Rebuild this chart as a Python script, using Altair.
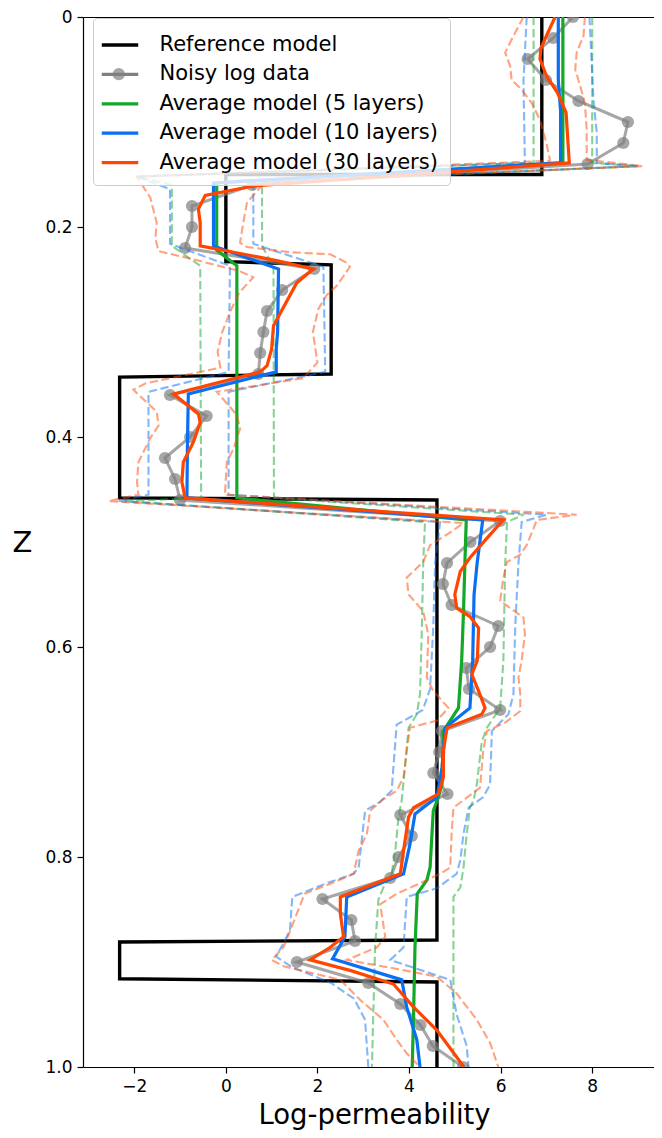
import altair as alt
import pandas as pd

# ---------------- data ----------------
# Reference (true) model: piecewise constant log-permeability
ref_z = [0.0, 0.150, 0.150, 0.233, 0.236, 0.340, 0.343, 0.458, 0.460, 0.879, 0.881, 0.916, 0.919, 1.0]
ref_x = [6.9, 6.9, 0.0, 0.0, 2.3, 2.3, -2.32, -2.32, 4.61, 4.61, -2.32, -2.32, 4.61, 4.61]

# Noisy log data
data_z = [0.00, 0.02, 0.04, 0.06, 0.08, 0.10, 0.12, 0.14, 0.16, 0.18, 0.20, 0.22, 0.24, 0.26, 0.28,
          0.30, 0.32, 0.34, 0.36, 0.38, 0.40, 0.42, 0.44, 0.46, 0.48, 0.50, 0.52, 0.54, 0.56, 0.58,
          0.60, 0.62, 0.64, 0.66, 0.68, 0.70, 0.72, 0.74, 0.76, 0.78, 0.80, 0.82, 0.84, 0.86, 0.88,
          0.90, 0.92, 0.94, 0.96, 0.98, 1.00]
data_x = [7.58, 7.15, 6.59, 6.99, 7.70, 8.78, 8.68, 7.90, 0.57, -0.74, -0.74, -0.89, 1.93, 1.23, 0.90,
          0.82, 0.75, 0.71, -1.22, -0.42, -0.78, -1.33, -1.11, -1.00, 5.99, 5.34, 4.83, 4.74, 4.93, 5.95,
          5.77, 5.25, 5.31, 5.99, 4.72, 4.66, 4.53, 4.84, 3.81, 4.06, 3.77, 3.59, 2.11, 2.74, 2.82,
          1.55, 3.11, 3.81, 4.25, 4.52, 5.18]

# Average model, 5 layers (mean, lower and upper bounds)
g5_z = [0.0, 0.139, 0.158, 0.222, 0.237, 0.458, 0.479, 0.52, 0.566, 0.613, 0.658, 0.68, 0.731,
        0.743, 0.756, 0.81, 0.822, 0.835, 0.886, 0.949, 1.0]
g5_x = [7.36, 7.36, -0.2, -0.2, 0.24, 0.24, 5.25, 5.22, 5.19, 5.15, 5.08, 4.75, 4.72,
        4.64, 4.53, 4.46, 4.39, 4.18, 4.13, 4.10, 4.07]
g5lo_z = [0.0, 0.139, 0.152, 0.16, 0.218, 0.237, 0.458, 0.461, 0.481, 0.519, 0.582, 0.645, 0.664,
          0.677, 0.715, 0.746, 0.762, 0.794, 0.816, 0.829, 0.841, 0.886, 0.949, 1.0]
g5lo_x = [6.72, 6.72, -1.95, -1.18, -1.18, -0.56, -0.54, -2.2, 4.35, 4.31, 4.28, 4.24, 4.17,
          3.99, 3.91, 3.84, 3.77, 3.70, 3.62, 3.44, 3.33, 3.26, 3.22, 3.19]
g5hi_z = [0.0, 0.139, 0.142, 0.158, 0.218, 0.238, 0.458, 0.474, 0.481, 0.52, 0.613, 0.658, 0.677,
          0.69, 0.731, 0.746, 0.753, 0.778, 0.81, 0.829, 0.838, 1.0]
g5hi_x = [8.0, 8.0, 9.0, 0.79, 0.79, 1.04, 1.05, 6.5, 6.14, 6.1, 6.06, 5.99, 5.7,
          5.59, 5.48, 5.41, 5.33, 5.26, 5.19, 5.12, 4.97, 4.97]

# Average model, 10 layers
b10_z = [0.0, 0.06, 0.09, 0.139, 0.158, 0.218, 0.240, 0.30, 0.316, 0.338, 0.359, 0.41, 0.458,
         0.479, 0.519, 0.55, 0.613, 0.658, 0.677, 0.715, 0.743, 0.759, 0.788, 0.816, 0.838,
         0.876, 0.897, 0.917, 0.943, 0.974, 1.0]
b10_x = [7.26, 7.26, 7.31, 7.31, -0.27, -0.27, 1.15, 1.13, 1.10, 1.10, -0.82, -0.84, -0.85,
         5.61, 5.49, 5.42, 5.39, 5.33, 4.79, 4.72, 4.61, 4.13, 4.02, 3.88, 2.64,
         2.60, 2.33, 3.84, 3.95, 4.17, 4.24]
b10lo_z = [0.0, 0.06, 0.139, 0.152, 0.164, 0.216, 0.237, 0.338, 0.357, 0.455, 0.461, 0.481, 0.52,
           0.58, 0.64, 0.66, 0.674, 0.737, 0.748, 0.756, 0.81, 0.816, 0.825, 0.838, 0.87, 0.895,
           0.905, 0.92, 0.935, 0.955, 1.0]
b10lo_x = [6.57, 6.50, 6.53, -1.95, -1.22, -1.22, 0.09, 0.06, -1.69, -1.69, -2.35, 4.68, 4.57,
           4.53, 4.46, 4.30, 3.73, 3.62, 3.35, 3.04, 2.90, 2.79, 2.20, 1.45, 1.40, 1.10,
           1.45, 2.30, 2.80, 3.04, 3.11]
b10hi_z = [0.0, 0.08, 0.11, 0.139, 0.142, 0.158, 0.216, 0.238, 0.338, 0.357, 0.455, 0.474, 0.481,
           0.52, 0.58, 0.645, 0.664, 0.68, 0.731, 0.743, 0.753, 0.778, 0.803, 0.816, 0.83, 0.838,
           0.886, 0.898, 0.917, 0.95, 0.98, 1.0]
b10hi_x = [7.94, 8.03, 8.10, 8.10, 9.0, 0.60, 0.60, 2.13, 2.17, 0.06, 0.06, 7.0, 6.46,
           6.39, 6.32, 6.28, 6.17, 5.81, 5.77, 5.62, 5.30, 5.19, 5.12, 5.04, 4.60, 3.95,
           3.88, 3.59, 4.90, 5.04, 5.26, 5.30]

# Average model, 30 layers
o30_z = [0.0, 0.018, 0.03, 0.04, 0.056, 0.072, 0.091, 0.139, 0.161, 0.17, 0.183, 0.196, 0.218,
         0.224, 0.232, 0.24, 0.253, 0.294, 0.316, 0.332, 0.338, 0.359, 0.378, 0.386, 0.405,
         0.424, 0.443, 0.458, 0.479, 0.493, 0.515, 0.528, 0.55, 0.563, 0.571, 0.582, 0.613,
         0.626, 0.642, 0.658, 0.664, 0.677, 0.699, 0.724, 0.74, 0.753, 0.762, 0.794, 0.816,
         0.838, 0.854, 0.876, 0.886, 0.898, 0.908, 0.921, 0.943, 0.965, 1.0]
o30_x = [7.19, 7.0, 6.88, 6.86, 7.0, 7.24, 7.43, 7.5, 0.6, -0.45, -0.6, -0.56, -0.56,
         0.17, 1.11, 1.91, 1.55, 1.04, 1.0, 0.9, 0.75, -1.14, -0.6, -0.56, -0.71,
         -0.93, -0.96, -0.89, 6.06, 5.77, 5.33, 5.12, 5.0, 5.04, 5.33, 5.52, 5.49,
         5.37, 5.52, 5.66, 5.59, 4.83, 4.75, 4.75, 4.64, 4.1, 3.99, 3.88, 3.81,
         2.5, 2.5, 2.57, 2.28, 1.84, 2.71, 3.66, 4.1, 4.61, 5.2]
o30lo_z = [0.0, 0.018, 0.034, 0.047, 0.06, 0.069, 0.082, 0.098, 0.12, 0.137, 0.152, 0.172, 0.196,
           0.211, 0.223, 0.232, 0.242, 0.248, 0.262, 0.28, 0.30, 0.319, 0.334, 0.349, 0.355,
           0.376, 0.389, 0.401, 0.424, 0.443, 0.455, 0.461, 0.482, 0.492, 0.503, 0.519, 0.534,
           0.55, 0.566, 0.588, 0.629, 0.642, 0.658, 0.67, 0.677, 0.699, 0.724, 0.737, 0.745,
           0.756, 0.778, 0.794, 0.816, 0.825, 0.835, 0.854, 0.886, 0.898, 0.904, 0.917, 0.936,
           0.955, 0.974, 0.987, 1.0]
o30lo_x = [6.5, 6.28, 6.1, 6.21, 6.24, 6.46, 6.68, 6.86, 7.0, 7.08, -1.95, -1.65, -1.51,
           -1.54, -1.47, -0.6, 0.3, 0.6, 0.3, 0.1, -0.08, -0.18, -0.12, -1.76, -2.02,
           -1.51, -1.47, -1.65, -1.91, -1.94, -1.91, -2.56, 5.19, 4.86, 4.46, 4.31, 3.95,
           3.99, 4.31, 4.42, 4.39, 4.53, 4.86, 4.61, 4.02, 3.95, 3.88, 3.73, 3.44,
           3.15, 3.08, 2.9, 2.79, 2.31, 1.72, 1.55, 1.26, 1.0, 1.26, 2.5, 2.93,
           3.44, 3.73, 3.95, 4.24]
o30hi_z = [0.0, 0.018, 0.034, 0.05, 0.066, 0.082, 0.107, 0.136, 0.142, 0.157, 0.177, 0.196, 0.215,
           0.219, 0.224, 0.226, 0.234, 0.238, 0.256, 0.265, 0.278, 0.30, 0.329, 0.344, 0.35,
           0.354, 0.357, 0.379, 0.392, 0.411, 0.424, 0.455, 0.474, 0.479, 0.487, 0.503, 0.512,
           0.519, 0.534, 0.556, 0.572, 0.588, 0.613, 0.629, 0.645, 0.661, 0.672, 0.68, 0.699,
           0.734, 0.753, 0.778, 0.81, 0.816, 0.825, 0.835, 0.845, 0.876, 0.886, 0.898, 0.906,
           0.914, 0.93, 0.955, 0.977, 1.0]
o30hi_x = [7.84, 7.81, 7.66, 7.63, 7.74, 7.84, 7.88, 7.88, 9.1, 0.85, 0.46, 0.38, 0.31,
           0.46, 1.4, 2.28, 2.64, 2.71, 2.42, 2.2, 2.02, 1.9, 2.0, 1.69, 0.82,
           0.24, -0.2, 0.24, 0.31, 0.17, 0.02, -0.02, 7.66, 6.79, 6.72, 6.57, 6.43,
           6.14, 6.06, 5.99, 6.5, 6.53, 6.46, 6.39, 6.43, 6.43, 6.1, 5.7, 5.62,
           5.55, 4.97, 4.93, 4.9, 4.68, 4.24, 3.73, 3.37, 3.48, 3.3, 2.64, 3.66,
           4.61, 5.04, 5.48, 5.77, 5.95]

SERIES = ["Reference model", "Noisy log data", "Average model (5 layers)",
          "Average model (10 layers)", "Average model (30 layers)"]
C_BLACK, C_GRAY, C_GREEN, C_BLUE, C_ORANGE = "#000000", "#808080", "#12a828", "#0a6ff2", "#ff4500"
COLORS = [C_BLACK, C_GRAY, C_GREEN, C_BLUE, C_ORANGE]
X_TICKS = [-2, 0, 2, 4, 6, 8]
Z_TICKS = [0.0, 0.2, 0.4, 0.6, 0.8, 1.0]
X_DOMAIN = [-3.12, 9.35]
FONT = "DejaVu Sans"


def frame(zs, xs, series, part="mean"):
    return pd.DataFrame({"z": zs, "x": xs, "series": series, "part": part,
                         "mk": series, "i": list(range(len(zs)))})


x_scale = alt.Scale(domain=X_DOMAIN, nice=False, zero=False)
y_scale = alt.Scale(domain=[0, 1], reverse=True, nice=False, zero=False)

x_axis_bottom = alt.Axis(orient="bottom", values=X_TICKS, format="d", labelPadding=5,
                         labelFlush=False, domain=True, labelFontSize=17,
                         title="Log-permeability", titleX=291, titleY=56, titleFontSize=27.5,
                         titleBaseline="alphabetic", titleAlign="center")
x_axis_top = alt.Axis(orient="top", domain=True, ticks=False, labels=False, title=None)
y_axis = alt.Axis(values=Z_TICKS, labelPadding=5, labelFlush=False, domain=True,
                  labelFontSize=17,
                  labelExpr="datum.value == 0 ? '0' : format(datum.value, '.1f')",
                  title="Z", titleAngle=0, titleX=-61, titleY=525,
                  titleAlign="center", titleBaseline="middle")

main_legend = alt.Legend(title=None, orient="none", legendX=10, legendY=1,
                         symbolType="M-1.35,0L1.35,0", symbolSize=729, symbolStrokeWidth=3.3,
                         labelFont=FONT, labelFontSize=21, labelColor="black", labelLimit=500,
                         labelOffset=24, padding=11.5, rowPadding=3.4,
                         fillColor="rgba(255,255,255,0.8)", strokeColor="#cccccc",
                         cornerRadius=4, zindex=1)
color_enc = alt.Color("series:N", scale=alt.Scale(domain=SERIES, range=COLORS), legend=main_legend)

dot_legend = alt.Legend(title=None, orient="none", legendX=29.3, legendY=50.7, padding=0,
                        symbolSize=150, symbolType="circle", symbolFillColor=C_GRAY,
                        symbolStrokeColor=C_GRAY, symbolStrokeWidth=0, symbolOpacity=0.7,
                        labelExpr="''", labelFontSize=1, labelOffset=0, zindex=2)


def enc_xy(x_axis=None):
    return dict(x=alt.X("x:Q", scale=x_scale, axis=x_axis),
                y=alt.Y("z:Q", scale=y_scale, axis=y_axis))


def solid(df, width=3.2, opacity=1.0, x_axis=None):
    return alt.Chart(df).mark_line(strokeWidth=width, opacity=opacity, clip=True).encode(
        color=color_enc, order=alt.Order("i:Q"), **enc_xy(x_axis))


def dashed(df, color):
    return alt.Chart(df).mark_line(strokeWidth=2.1, strokeDash=[8.3, 3.6], opacity=0.5,
                                   color=color, clip=True).encode(
        detail="part:N", order=alt.Order("i:Q"), **enc_xy())


ref_df = frame(ref_z, ref_x, SERIES[0])
data_df = frame(data_z, data_x, SERIES[1])
g5_df = frame(g5_z, g5_x, SERIES[2])
g5b_df = pd.concat([frame(g5lo_z, g5lo_x, SERIES[2], "lo"), frame(g5hi_z, g5hi_x, SERIES[2], "hi")])
b10_df = frame(b10_z, b10_x, SERIES[3])
b10b_df = pd.concat([frame(b10lo_z, b10lo_x, SERIES[3], "lo"), frame(b10hi_z, b10hi_x, SERIES[3], "hi")])
o30_df = frame(o30_z, o30_x, SERIES[4])
o30b_df = pd.concat([frame(o30lo_z, o30lo_x, SERIES[4], "lo"), frame(o30hi_z, o30hi_x, SERIES[4], "hi")])

points = alt.Chart(data_df).mark_point(filled=True, size=150, color=C_GRAY, opacity=0.7,
                                       strokeWidth=0, clip=True).encode(
    shape=alt.Shape("mk:N", scale=alt.Scale(domain=[SERIES[1]], range=["circle"]), legend=dot_legend),
    **enc_xy())

chart = alt.layer(
    solid(ref_df, width=3.4, x_axis=x_axis_bottom),
    solid(data_df, width=3.0, opacity=0.7, x_axis=x_axis_top),
    points,
    solid(g5_df),
    dashed(g5b_df, C_GREEN),
    solid(b10_df),
    dashed(b10b_df, C_BLUE),
    solid(o30_df),
    dashed(o30b_df, C_ORANGE),
).resolve_axis(
    x="independent"
).properties(
    width=571, height=1050,
    autosize=alt.AutoSizeParams(type="none"),
    padding={"left": 75, "top": 9, "right": 0, "bottom": 63},
).configure_view(
    stroke=None
).configure_axis(
    labelFont=FONT, titleFont=FONT, labelFontSize=17, titleFontSize=29,
    titleFontWeight="normal", labelColor="black", titleColor="black",
    tickColor="black", tickSize=6, tickWidth=1.2, grid=False,
    domainColor="black", domainWidth=1.2
)

chart.save("out.html", embed_options={"renderer": "svg", "actions": False})
